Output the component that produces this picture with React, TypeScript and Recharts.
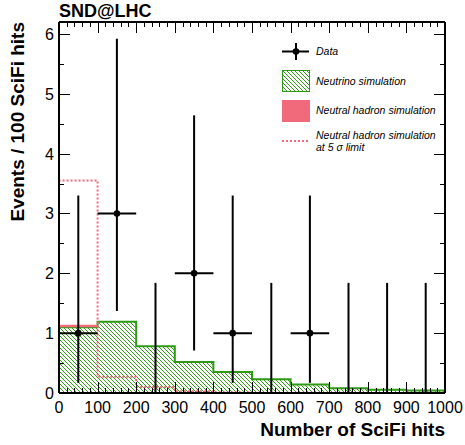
import React from 'react';
import {
  ComposedChart,
  Area,
  Line,
  Scatter,
  ErrorBar,
  XAxis,
  YAxis,
  ReferenceLine,
  Legend,
} from 'recharts';

// bin edges (SciFi hits) and per-bin contents, 10 bins of 100
const binEdges = [0, 100, 200, 300, 400, 500, 600, 700, 800, 900, 1000];
const neutrinoSim = [1.1, 1.19, 0.78, 0.52, 0.35, 0.23, 0.14, 0.08, 0.055, 0.04];
const hadronSim = [0.04, 0, 0, 0, 0, 0, 0, 0, 0, 0];
const hadronLimit = [3.55, 0.27, 0.1, 0.03, 0.012, 0.006, 0.004, 0.003, 0.002, 0.002];

// observed events with Poisson 68% intervals
const dataCenters = [50, 150, 250, 350, 450, 550, 650, 750, 850, 950];
const dataCounts = [1, 3, 0, 2, 1, 0, 1, 0, 0, 0];
const dataLow = [0.17, 1.37, 0, 0.71, 0.17, 0, 0.17, 0, 0, 0];
const dataHigh = [3.3, 5.92, 1.84, 4.64, 3.3, 1.84, 3.3, 1.84, 1.84, 1.84];

const xTicks = Array.from({ length: 51 }, (_, i) => i * 20);
const yTicks = Array.from({ length: 13 }, (_, i) => i * 0.5);

const W = 465;
const H = 445;
const M_TOP = 22;
const M_RIGHT = 20;
const X_AXIS_H = 52;
const Y_AXIS_W = 59;
const PLOT_W = W - Y_AXIS_W - M_RIGHT;
const PLOT_H = H - M_TOP - X_AXIS_H;

const GREEN = '#2e9a14';
const HATCH = '#339c1a';
const RED = '#f16a7c';
const FONT = '"Liberation Sans", Arial, Helvetica, sans-serif';

// step data: last edge repeats the last bin so the step closes at 1000
const histData = binEdges.map((x, i) => {
  const k = Math.min(i, neutrinoSim.length - 1);
  return { x, nu: neutrinoSim[k], had: hadronSim[k] };
});
const limitData = [
  { x: 0, lim: 0 },
  ...binEdges.map((x, i) => ({ x, lim: hadronLimit[Math.min(i, hadronLimit.length - 1)] })),
];
const pointData = dataCenters.map((x, i) => ({
  x,
  y: dataCounts[i],
  ex: dataCounts[i] > 0 ? 50 : 0,
  ey: [dataCounts[i] - dataLow[i], dataHigh[i] - dataCounts[i]],
}));

const crisp = (v: number) => Math.round(v) + 0.5;

// ticks point inwards, on both sides of the frame (ROOT style)
const XTick = (props: any) => {
  const { x, y, payload } = props;
  const major = payload.value % 100 === 0;
  const len = major ? 11 : 5;
  const cx = crisp(x);
  const top = y - PLOT_H;
  return (
    <g>
      <line x1={cx} y1={y} x2={cx} y2={y - len} stroke="#000" strokeWidth={1} />
      <line x1={cx} y1={top} x2={cx} y2={top + len} stroke="#000" strokeWidth={1} />
      {major && (
        <text x={x} y={y + 20} textAnchor="middle" fontSize={16} fontFamily={FONT} fill="#000">
          {payload.value}
        </text>
      )}
    </g>
  );
};

const YTick = (props: any) => {
  const { x, y, payload } = props;
  const major = Number.isInteger(payload.value);
  const len = major ? 11 : 5;
  const cy = crisp(y);
  const right = x + PLOT_W;
  return (
    <g>
      <line x1={x} y1={cy} x2={x + len} y2={cy} stroke="#000" strokeWidth={1} />
      <line x1={right} y1={cy} x2={right - len} y2={cy} stroke="#000" strokeWidth={1} />
      {major && (
        <text x={x - 5} y={y + 6} textAnchor="end" fontSize={16} fontFamily={FONT} fill="#000">
          {payload.value}
        </text>
      )}
    </g>
  );
};

const DataPoint = (props: any) => {
  const { cx, cy, payload } = props;
  if (!payload || payload.y <= 0) return <g />;
  return <circle cx={cx} cy={cy} r={3.3} fill="#000" />;
};

const legendText: React.CSSProperties = {
  position: 'absolute',
  left: 316,
  fontSize: 10.5,
  fontStyle: 'italic',
  fontFamily: FONT,
  whiteSpace: 'nowrap',
  lineHeight: '12px',
};

const HistLegend = () => (
  <div style={{ position: 'absolute', left: 0, top: 0, width: W, height: H, pointerEvents: 'none' }}>
    <svg width={W} height={H} style={{ position: 'absolute', left: 0, top: 0 }}>
      <defs>
        <pattern id="nuHatchLegend" patternUnits="userSpaceOnUse" width="4" height="4">
          <path d="M-1,-1 L5,5 M-1,3 L1,5 M3,-1 L5,1" stroke={HATCH} strokeWidth={1} />
        </pattern>
      </defs>
      <line x1={282} y1={51.5} x2={309} y2={51.5} stroke="#000" strokeWidth={2} />
      <line x1={296} y1={43} x2={296} y2={60} stroke="#000" strokeWidth={2} />
      <circle cx={296} cy={51.5} r={3.3} fill="#000" />
      <rect x={282.5} y={70.5} width={27} height={21} fill="url(#nuHatchLegend)" stroke={GREEN} strokeWidth={1} />
      <rect x={282} y={100} width={28} height={22} fill={RED} />
      <line x1={282} y1={141} x2={310} y2={141} stroke={RED} strokeWidth={2} strokeDasharray="2 2" />
    </svg>
    <div style={{ ...legendText, top: 45 }}>Data</div>
    <div style={{ ...legendText, top: 75 }}>Neutrino simulation</div>
    <div style={{ ...legendText, top: 104 }}>Neutral hadron simulation</div>
    <div style={{ ...legendText, top: 129 }}>
      Neutral hadron simulation
      <br />
      at 5 σ limit
    </div>
  </div>
);

const titleStyle: React.CSSProperties = {
  position: 'absolute',
  fontFamily: FONT,
  fontWeight: 'bold',
  whiteSpace: 'nowrap',
  color: '#000',
};

const frameLine = { stroke: '#000', strokeWidth: 2 };

export default function App() {
  return (
    <div style={{ position: 'absolute', left: 0, top: 0, width: W, height: H, background: '#fff' }}>
      <ComposedChart
        width={W}
        height={H}
        data={histData}
        margin={{ top: M_TOP, right: M_RIGHT, bottom: 0, left: 0 }}
      >
        <defs>
          <pattern id="nuHatch" patternUnits="userSpaceOnUse" width="4" height="4">
            <path d="M-1,-1 L5,5 M-1,3 L1,5 M3,-1 L5,1" stroke={HATCH} strokeWidth={1} />
          </pattern>
        </defs>
        <XAxis
          dataKey="x"
          type="number"
          domain={[0, 1000]}
          allowDataOverflow
          ticks={xTicks}
          interval={0}
          height={X_AXIS_H}
          tickSize={0}
          tickMargin={0}
          tickLine={false}
          tick={<XTick />}
          axisLine={frameLine}
        />
        <YAxis
          type="number"
          domain={[0, 6.2]}
          allowDataOverflow
          ticks={yTicks}
          interval={0}
          width={Y_AXIS_W}
          tickSize={0}
          tickMargin={0}
          tickLine={false}
          tick={<YTick />}
          axisLine={frameLine}
        />
        <Area type="stepAfter" dataKey="nu" stackId="sim" stroke={GREEN} strokeWidth={2}
          fill="url(#nuHatch)" fillOpacity={1} dot={false} activeDot={false} isAnimationActive={false} />
        <Area type="stepAfter" dataKey="had" stackId="sim" stroke="none" fill={RED}
          fillOpacity={1} dot={false} activeDot={false} isAnimationActive={false} />
        <Line data={limitData} type="stepAfter" dataKey="lim" stroke={RED} strokeWidth={2}
          strokeDasharray="2 2" dot={false} activeDot={false} isAnimationActive={false} />
        <Scatter data={pointData} dataKey="y" shape={<DataPoint />} isAnimationActive={false}>
          <ErrorBar dataKey="ey" direction="y" width={0} stroke="#000" strokeWidth={2} isAnimationActive={false} />
          <ErrorBar dataKey="ex" direction="x" width={0} stroke="#000" strokeWidth={2} isAnimationActive={false} />
        </Scatter>
        {/* top and right sides of the frame */}
        <ReferenceLine y={6.2} stroke="#000" strokeWidth={2} ifOverflow="visible" />
        <ReferenceLine x={1000} stroke="#000" strokeWidth={2} ifOverflow="visible" />
        <Legend content={() => null} />
      </ComposedChart>
      <HistLegend />
      <div style={{ ...titleStyle, left: 59, top: 1, fontSize: 18 }}>SND@LHC</div>
      <div style={{ ...titleStyle, right: 20, top: 419, fontSize: 19 }}>Number of SciFi hits</div>
      <div
        style={{
          ...titleStyle,
          fontSize: 19,
          left: 7,
          top: 22,
          writingMode: 'vertical-rl',
          transform: 'rotate(180deg)',
        }}
      >
        Events / 100 SciFi hits
      </div>
    </div>
  );
}
